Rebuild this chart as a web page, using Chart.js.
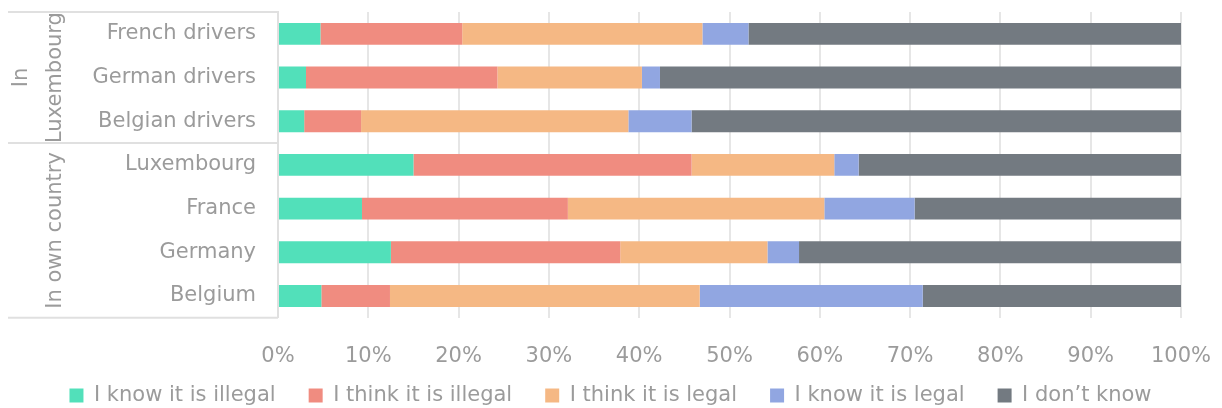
<!DOCTYPE html>
<html>
<head>
<meta charset="utf-8">
<script src="https://cdn.jsdelivr.net/npm/chart.js@4/dist/chart.umd.min.js"></script>
<style>
  html, body { margin: 0; padding: 0; background: #fff; }
  #wrap { width: 1222px; height: 408px; }
</style>
</head>
<body>
<div id="wrap"><canvas id="chart1"></canvas></div>
<script>
var categories = ['French drivers', 'German drivers', 'Belgian drivers', 'Luxembourg', 'France', 'Germany', 'Belgium'];
var knowIllegal = [4.7, 3.1, 2.9, 15.0, 9.3, 12.5, 4.8];
var thinkIllegal = [15.7, 21.2, 6.3, 30.8, 22.8, 25.4, 7.6];
var thinkLegal = [26.6, 16.0, 29.6, 15.8, 28.4, 16.3, 34.3];
var knowLegal = [5.1, 2.0, 7.0, 2.7, 10.0, 3.5, 24.7];
var dontKnow = [47.9, 57.7, 54.2, 35.7, 29.5, 42.3, 28.6];
var seriesNames = ['I know it is illegal', 'I think it is illegal', 'I think it is legal', 'I know it is legal', 'I don\u2019t know'];
var groups = [['In', 'Luxembourg'], ['In own country']];

var textGrey = '#9b9b9b';
var fontFam = '"DejaVu Sans", Verdana, sans-serif';
var fontSize = 21;

// brackets + group names on the left of the y axis
var groupPlugin = {
  id: 'groups',
  afterLayout: function(chart) {
    // legend row: pull it up under the tick labels, centre it on the page
    var lg = chart.legend;
    lg.top -= 43;
    lg.bottom -= 43;
    lg.left += 20;
    lg.right += 20;
  },
  afterDraw: function(chart) {
    var ctx = chart.ctx;
    var y = chart.scales.y;
    var area = chart.chartArea;
    var split = y.getPixelForValue(2.5);
    ctx.save();
    ctx.strokeStyle = '#e0e0e0';
    ctx.lineWidth = 2;
    [area.top, split, area.bottom].forEach(function(py){
      ctx.beginPath();
      ctx.moveTo(8, py);
      ctx.lineTo(area.left, py);
      ctx.stroke();
    });
    ctx.fillStyle = textGrey;
    ctx.font = fontSize + 'px ' + fontFam;
    ctx.textAlign = 'center';
    ctx.textBaseline = 'middle';
    var c1 = (area.top + split) / 2;
    var c2 = (split + area.bottom) / 2;
    var put = function(txt, x, yy){
      ctx.save();
      ctx.translate(x, yy);
      ctx.rotate(-Math.PI / 2);
      ctx.fillText(txt, 0, 0);
      ctx.restore();
    };
    put(groups[0][0], 22, c1);
    put(groups[0][1], 56, c1);
    put(groups[1][0], 56, c2);
    ctx.restore();
  }
};

var colors = ['#52e0ba', '#f08c80', '#f5b884', '#91a6e1', '#737a81'];
var values = [knowIllegal, thinkIllegal, thinkLegal, knowLegal, dontKnow];

var chart1 = new Chart(document.getElementById('chart1').getContext('2d'), {
  type: 'bar',
  data: {
    labels: categories,
    datasets: values.map(function(v, i){
      return {
        label: seriesNames[i],
        data: v,
        backgroundColor: colors[i],
        borderWidth: 0,
        categoryPercentage: 1,
        barPercentage: 0.5
      };
    })
  },
  options: {
    indexAxis: 'y',
    responsive: true,
    maintainAspectRatio: false,
    animation: false,
    layout: { padding: { top: 12, right: 41, bottom: -51, left: 0 } },
    plugins: {
      tooltip: { enabled: false },
      legend: {
        position: 'bottom',
        labels: {
          boxWidth: 14,
          boxHeight: 14,
          padding: 33,
          color: textGrey,
          font: { family: fontFam, size: fontSize }
        }
      }
    },
    scales: {
      x: {
        stacked: true,
        min: 0,
        max: 100,
        afterFit: function(s){
          s.paddingLeft = 0;
          s.paddingRight = 0;
        },
        ticks: {
          stepSize: 10,
          padding: 26,
          color: textGrey,
          font: { family: fontFam, size: fontSize },
          callback: function(v){ return v + '%'; }
        },
        grid: { color: '#e6e6e6', lineWidth: 2, drawTicks: false },
        border: { display: false }
      },
      y: {
        stacked: true,
        afterFit: function(s){
          s.width = 278;
          s.paddingTop = 0;
          s.paddingBottom = 0;
        },
        ticks: {
          padding: 22,
          color: textGrey,
          font: { family: fontFam, size: fontSize }
        },
        grid: { display: false, drawTicks: false },
        border: { color: '#e0e0e0', width: 2 }
      }
    }
  },
  plugins: [groupPlugin]
});
</script>
</body>
</html>
